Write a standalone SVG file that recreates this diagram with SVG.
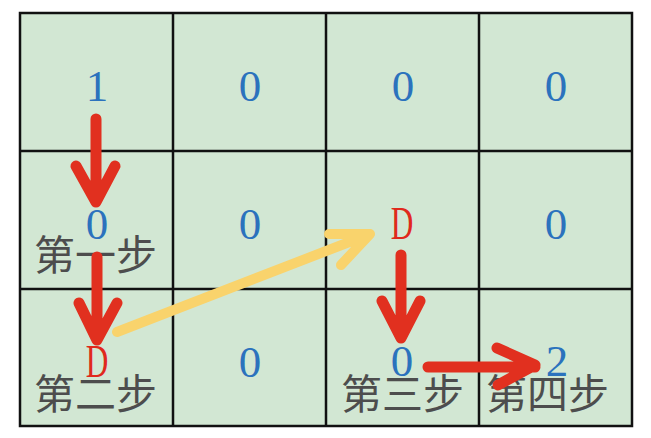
<svg xmlns="http://www.w3.org/2000/svg" width="651" height="438" viewBox="0 0 651 438">
<style>
.cell{fill:#d2e7d3;stroke:#111;stroke-width:2.5}
.num{font-family:"Liberation Serif","DejaVu Serif",serif;font-size:45px;fill:#2b72bd;text-anchor:middle}
.d{font-family:"Liberation Serif","DejaVu Serif",serif;font-size:46px;fill:#e0291c;text-anchor:middle}
.lab{font-family:"Noto Sans CJK SC","Noto Sans",sans-serif;font-size:41px;fill:#4d4d4d}
.red{fill:none;stroke:#e1301f;stroke-width:11;stroke-linecap:round;stroke-linejoin:round}
.yel{fill:none;stroke:#f9d36c;stroke-width:10;stroke-linecap:round;stroke-linejoin:round}
</style>
<rect width="651" height="438" fill="#ffffff"/>
<g id="grid">
<rect class="cell" x="20" y="13" width="612" height="413"/>
<path d="M173 13V426M326 13V426M479 13V426M20 151H632M20 289H632" stroke="#111" stroke-width="2.5" fill="none"/>
</g>
<g id="r1c1"><text class="num" x="97" y="101">1</text></g>
<g id="r1c2"><text class="num" x="250" y="101">0</text></g>
<g id="r1c3"><text class="num" x="403" y="101">0</text></g>
<g id="r1c4"><text class="num" x="556" y="101">0</text></g>
<g id="r2c1"><text class="num" x="97" y="239">0</text><text class="lab" x="34" y="270">第一步</text></g>
<g id="r2c2"><text class="num" x="250" y="239">0</text></g>
<g id="r2c3"><text class="d" transform="translate(402,239) scale(0.68,1)">D</text></g>
<g id="r2c4"><text class="num" x="556" y="239">0</text></g>
<g id="r3c1"><text class="d" transform="translate(97,377) scale(0.68,1)">D</text><text class="lab" x="34" y="409">第二步</text></g>
<g id="r3c2"><text class="num" x="250" y="377">0</text></g>
<g id="r3c3"><text class="num" x="402" y="376">0</text><text class="lab" x="341" y="409">第三步</text></g>
<g id="r3c4"><text class="num" x="557" y="376">2</text><text class="lab" x="486" y="409">第四步</text></g>
<g id="connectors">
<path class="red" d="M96 119V202M76 166L96 202L115 166"/>
<path class="red" d="M97 257V340M79 303L97 340L117 303"/>
<path class="yel" d="M117 332L370 234M329 234L370 234L341 265"/>
<path class="red" d="M401 255V338M382 301L401 338L420 301"/>
<path class="red" d="M428 367H535M497 348L535 365L498 385"/>
</g>
</svg>
